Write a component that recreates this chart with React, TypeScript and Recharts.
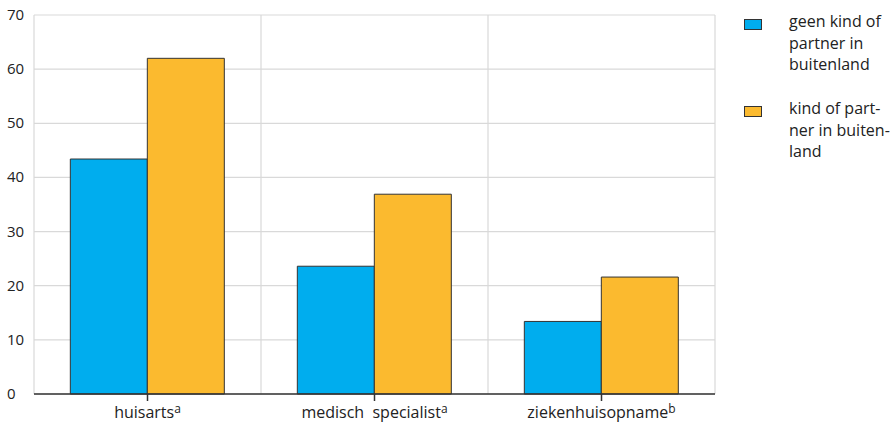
import { Bar, BarChart, CartesianGrid, Legend, XAxis, YAxis } from 'recharts'

const categories = ['huisarts', 'medisch  specialist', 'ziekenhuisopname']
const superscripts = ['a', 'a', 'b']
const geenPartner = [43.4, 23.6, 13.4]
const welPartner = [62, 36.9, 21.6]
const yTicks = [0, 10, 20, 30, 40, 50, 60, 70]

const seriesNames = ['geen kind of partner in buitenland', 'kind of partner in buitenland']
const legendLines = [
  ['geen kind of', 'partner in', 'buitenland'],
  ['kind of part-', 'ner in buiten-', 'land'],
]
const colors = ['#00adee', '#fbba2f']

const FONT = '"Open Sans", "Noto Sans", sans-serif'
const TEXT = '#222'

const data = categories.map((c, i) => ({
  name: c,
  sup: superscripts[i],
  geen: geenPartner[i],
  wel: welPartner[i],
}))

const YTick = ({ y, payload }: any) => (
  <text x={7} y={y} dy={5} fontSize={15} fontFamily={FONT} fill={TEXT} textAnchor="start">
    {payload.value}
  </text>
)

const XTick = ({ x, y, payload, index }: any) => (
  <text x={x} y={y} dy={15} fontSize={16} fontFamily={FONT} fill={TEXT} textAnchor="middle" style={{ whiteSpace: 'pre' }}>
    {payload.value}
    <tspan fontSize={12} dy={-5}>{superscripts[index]}</tspan>
  </text>
)

const renderLegend = (props: any) => {
  const payload = props.payload || []
  return (
    <div style={{ fontFamily: FONT, fontSize: 16, color: TEXT, lineHeight: '21.5px' }}>
      {payload.map((entry: any, i: number) => (
        <div key={i} style={{ display: 'flex', alignItems: 'flex-start', marginBottom: 22.5 }}>
          <span
            style={{
              display: 'block',
              boxSizing: 'border-box',
              width: 18,
              height: 11,
              marginTop: 8,
              border: '1px solid #333',
              background: entry.color,
              flexShrink: 0,
            }}
          />
          <div style={{ marginLeft: 27, whiteSpace: 'nowrap' }}>
            {legendLines[i].map((l, j) => (
              <div key={j}>{l}</div>
            ))}
          </div>
        </div>
      ))}
    </div>
  )
}

export default function App() {
  return (
    <div style={{ position: 'absolute', left: 0, top: 0 }}>
      <BarChart
        width={895}
        height={424}
        data={data}
        margin={{ top: 15, right: 180, left: 0, bottom: 0 }}
        barCategoryGap="16%"
        barGap={0}
      >
        <CartesianGrid
          stroke="#d9d9d9"
          strokeWidth={1.2}
          verticalCoordinatesGenerator={({ offset }: any) =>
            [0, 1, 2, 3].map((i) => offset.left + (offset.width * i) / categories.length)
          }
        />
        <XAxis
          dataKey="name"
          height={30}
          stroke="#333"
          strokeWidth={1.5}
          tickSize={7}
          tickMargin={2}
          tick={<XTick />}
          interval={0}
        />
        <YAxis
          width={34}
          domain={[0, 70]}
          ticks={yTicks}
          axisLine={false}
          tickLine={false}
          tick={<YTick />}
          interval={0}
        />
        <Legend
          layout="horizontal"
          align="center"
          verticalAlign="middle"
          wrapperStyle={{ left: 744, top: 11, width: 151 }}
          content={renderLegend}
        />
        <Bar dataKey="geen" name={seriesNames[0]} fill={colors[0]} stroke="#333" strokeWidth={1} isAnimationActive={false} />
        <Bar dataKey="wel" name={seriesNames[1]} fill={colors[1]} stroke="#333" strokeWidth={1} isAnimationActive={false} />
      </BarChart>
    </div>
  )
}
